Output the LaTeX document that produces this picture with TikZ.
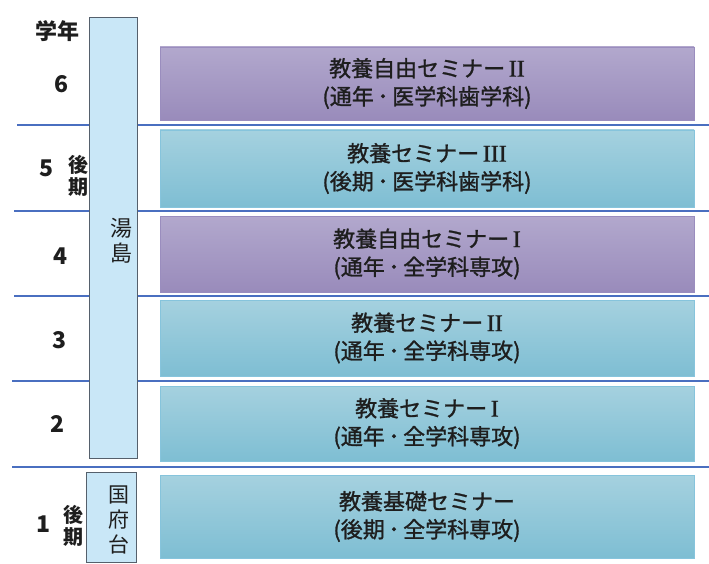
\documentclass[tikz,border=0pt]{standalone}
\usepackage{fontspec}
\newfontfamily\jp{Noto Sans CJK JP}
\newfontfamily\jpm[FakeBold=1.2]{Noto Sans CJK JP}
\newfontfamily\romn[FakeBold=0.8]{Liberation Serif}
\newcommand{\rnum}[1]{\,{\romn\fontsize{24}{28}\selectfont #1}}
\newcommand{\mdot}{\,･\,}
\definecolor{lineblue}{HTML}{4A6FC0}
\definecolor{purtop}{HTML}{B2A8CD}
\definecolor{purbot}{HTML}{998BBB}
\definecolor{purdraw}{HTML}{9A8DBE}
\definecolor{tealtop}{HTML}{A5D1DF}
\definecolor{tealbot}{HTML}{7EBED3}
\definecolor{tealdraw}{HTML}{86C4DC}
\definecolor{campfill}{HTML}{C9E7F7}
\definecolor{campdraw}{HTML}{55606C}
\definecolor{txt}{HTML}{1E1E1E}
\tikzset{
  yearline/.style={draw=lineblue, line width=2pt},
  rowbox/.style={rectangle, minimum width=534pt, align=center, text=txt,
    font=\jpm\fontsize{22}{28}\selectfont, inner sep=0pt},
  purbox/.style={rowbox, top color=purtop, bottom color=purbot, draw=purdraw, line width=0.6pt},
  tealbox/.style={rowbox, top color=tealtop, bottom color=tealbot, draw=tealdraw, line width=0.6pt},
  campus/.style={rectangle, fill=campfill, draw=campdraw, line width=1pt, inner sep=0pt},
  camptext/.style={align=center, text=txt, inner sep=0pt},
  yearlabel/.style={text=txt, inner sep=0pt, font=\jp\bfseries\fontsize{23}{23}\selectfont},
  termlabel/.style={text=txt, inner sep=0pt, align=center, font=\jp\bfseries\fontsize{20}{22}\selectfont}
}
\begin{document}
\begin{tikzpicture}[x=1pt,y=-1pt]
\path[use as bounding box, fill=white] (0,0) rectangle (709,564);
% year separators
\draw[yearline] (17,125) -- (709,125);
\draw[yearline] (14,211) -- (709,211);
\draw[yearline] (14,296) -- (709,296);
\draw[yearline] (12,381) -- (709,381);
\draw[yearline] (12,467) -- (709,467);
% seminar boxes
\node[purbox, minimum height=73pt] (s6) at (427,83.5) {教養自由セミナー\rnum{II}\\(通年\mdot 医学科歯学科)};
\node[tealbox, minimum height=77pt] (s5) at (427,168.5) {教養セミナー\rnum{III}\\(後期\mdot 医学科歯学科)};
\node[purbox, minimum height=76pt] (s4) at (427,254) {教養自由セミナー\rnum{I}\\(通年\mdot 全学科専攻)};
\node[tealbox, minimum height=76pt] (s3) at (427,338) {教養セミナー\rnum{II}\\(通年\mdot 全学科専攻)};
\node[tealbox, minimum height=75pt] (s2) at (427,423.5) {教養セミナー\rnum{I}\\(通年\mdot 全学科専攻)};
\node[tealbox, minimum height=83pt] (s1) at (427,516.5) {教養基礎セミナー\\(後期\mdot 全学科専攻)};
% campus boxes
\node[campus, minimum width=48pt, minimum height=440pt] (yushima) at (113,238) {};
\node[camptext, font=\jp\fontsize{22}{25}\selectfont] (yushimat) at (121,241) {湯\\島};
\node[campus, minimum width=50pt, minimum height=90pt] (kounodai) at (111,517) {};
\node[camptext, font=\jp\fontsize{21}{25}\selectfont] (kounodait) at (119,520) {国\\府\\台};
% year labels
\node[yearlabel, font=\jp\bfseries\fontsize{22}{22}\selectfont] (gakunen) at (57,31) {学年};
\node[yearlabel] (y6) at (62,84) {6};
\node[yearlabel] (y5) at (47,168) {5};
\node[termlabel] (t5) at (78,176) {後\\期};
\node[yearlabel] (y4) at (61,256) {4};
\node[yearlabel] (y3) at (60,340) {3};
\node[yearlabel] (y2) at (58,424) {2};
\node[yearlabel] (y1) at (44,524) {1};
\node[termlabel] (t1) at (73,526) {後\\期};
\end{tikzpicture}
\end{document}
